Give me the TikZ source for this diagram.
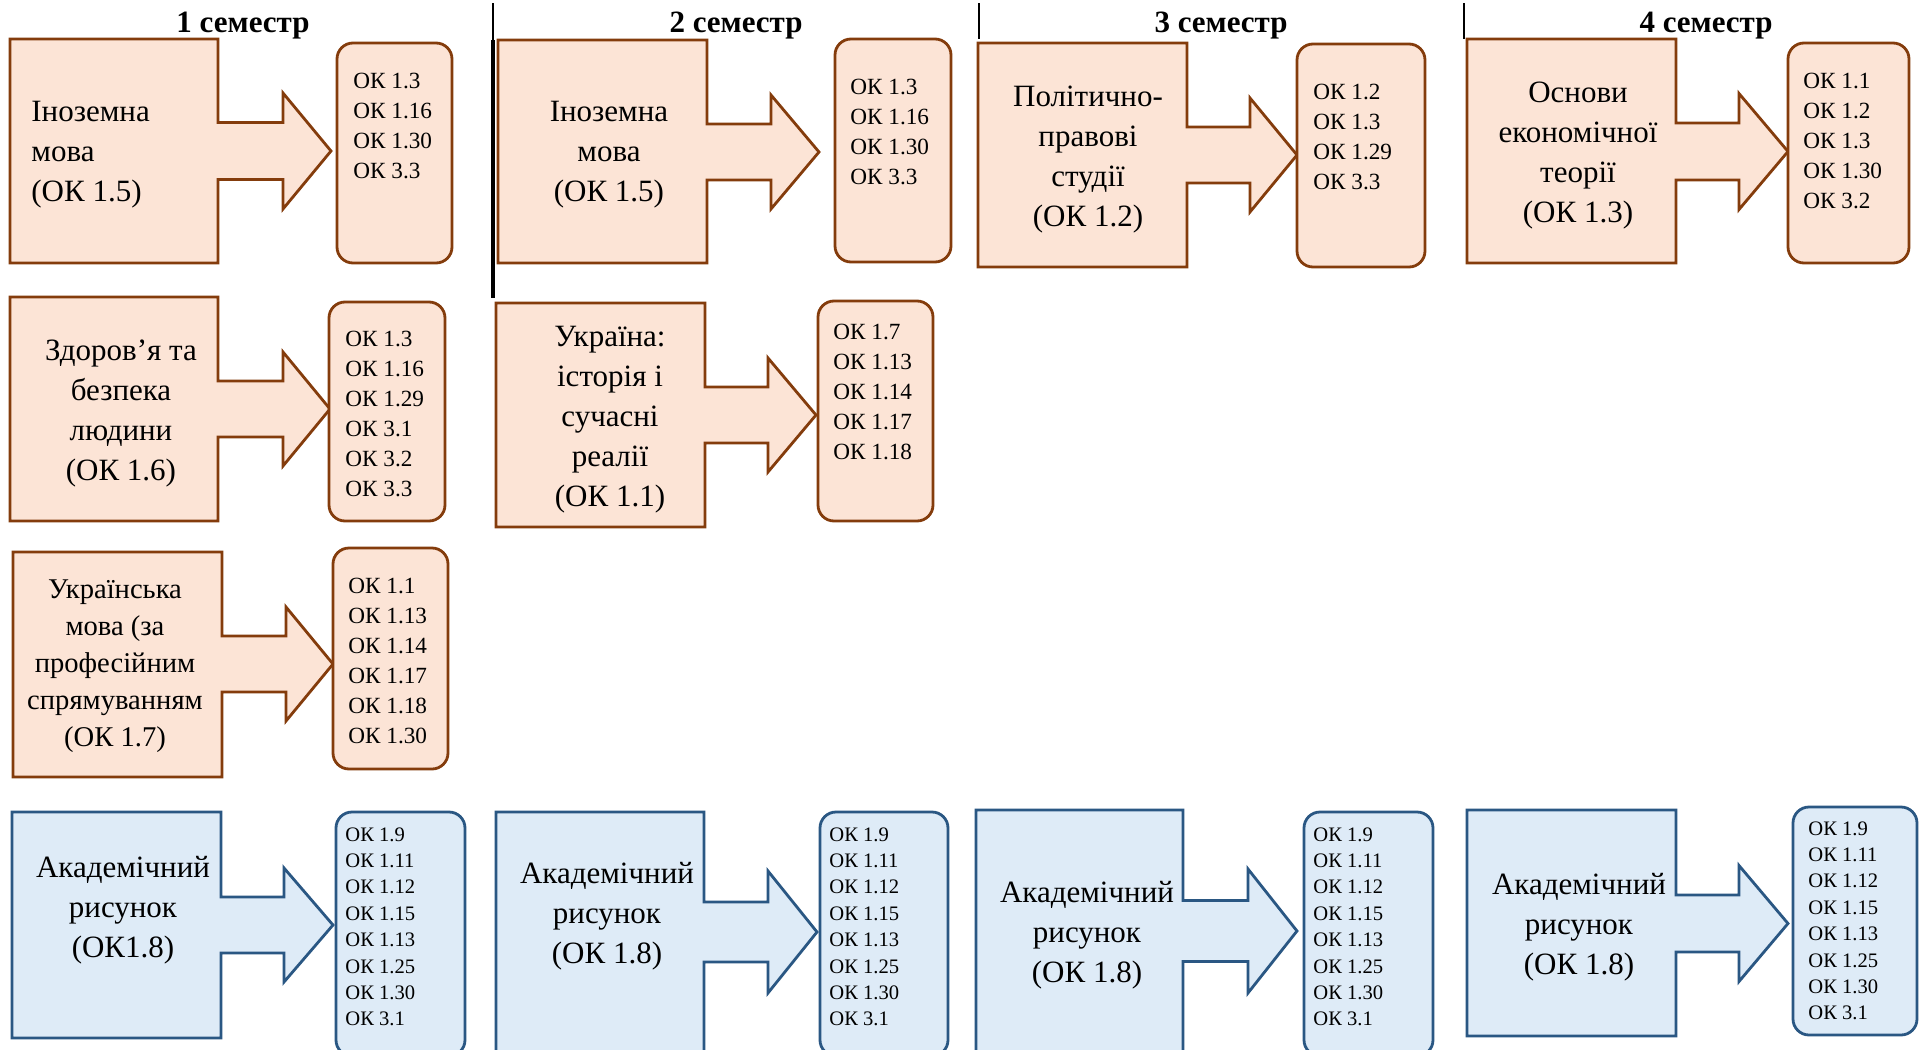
\documentclass[tikz,border=0pt]{standalone}
\usepackage{fontspec}
\setmainfont{Liberation Serif}
\definecolor{peachfill}{HTML}{FCE4D6}
\definecolor{peachline}{HTML}{843C0C}
\definecolor{bluefill}{HTML}{DEEBF7}
\definecolor{blueline}{HTML}{2A5783}
\tikzset{
  peach/.style={draw=peachline, fill=peachfill, line width=1.4pt},
  bluish/.style={draw=blueline, fill=bluefill, line width=1.4pt},
  boxtext/.style={inner sep=0pt, align=center, anchor=north, yshift=-1pt, font=\fontsize{15.5}{20}\selectfont},
  smallboxtext/.style={inner sep=0pt, align=center, anchor=north, yshift=-0.5pt, font=\fontsize{14.3}{18.5}\selectfont},
  listtext/.style={inner sep=0pt, align=left, anchor=north west, font=\fontsize{11.6}{15}\selectfont},
  bluelist/.style={inner sep=0pt, align=left, anchor=north west, font=\fontsize{10.3}{13.2}\selectfont},
  semhead/.style={inner sep=0pt, anchor=base, font=\bfseries\fontsize{15.5}{18}\selectfont},
  sepline/.style={draw=black, line width=1pt},
  septhick/.style={draw=black, line width=2pt},
}
% callout: [style] L T R B headbase tipx tipy shafthalf
\newcommand\callout[9][peach]{%
  \draw[#1] (#2,#3) -- (#4,#3) -- (#4,{#8-#9}) -- (#6,{#8-#9}) -- (#6,{#8-2*#9-1})
    -- (#7,#8) -- (#6,{#8+2*#9+1}) -- (#6,{#8+#9}) -- (#4,{#8+#9}) -- (#4,#5)
    -- (#2,#5) -- cycle;}
% rounded list box: style name L T R B
\newcommand\okbox[6]{%
  \node[#1, rounded corners=8pt, inner sep=0pt,
        minimum width={(#5-#3)*0.5pt}, minimum height={(#6-#4)*0.5pt}]
        (#2) at ({(#3+#5)/2},{(#4+#6)/2}) {};}
\begin{document}
\begin{tikzpicture}[x=0.5pt, y=-0.5pt]
\fill[white] (0,0) rectangle (1919,1050);
\useasboundingbox (0,0) rectangle (1919,1050);

% semester headings
\node[semhead] (h1) at (243,32) {1 семестр};
\node[semhead] (h2) at (736,32) {2 семестр};
\node[semhead] (h3) at (1221,32) {3 семестр};
\node[semhead] (h4) at (1706,32) {4 семестр};

% separator lines
\coordinate (s2a) at (493,3);
\coordinate (s2b) at (493,40);
\coordinate (s2c) at (493,298);
\coordinate (s3a) at (979,3);
\coordinate (s3b) at (979,39);
\coordinate (s4a) at (1464,3);
\coordinate (s4b) at (1464,39);
\draw[sepline] (s2a) -- (s2b);
\draw[septhick] (s2b) -- (s2c);
\draw[sepline] (s3a) -- (s3b);
\draw[sepline] (s4a) -- (s4b);

% callout shapes
\callout{10}{39}{218}{263}{283}{331}{151}{28.5}
\callout{498}{40}{707}{263}{771}{819}{152}{28}
\callout{978}{43}{1187}{267}{1250}{1297}{155}{28}
\callout{1467}{39}{1676}{263}{1739}{1788}{151.5}{28.5}
\callout{10}{297}{218}{521}{283}{330}{409}{28}
\callout{496}{303}{705}{527}{768}{816}{415}{28}
\callout{13}{552}{222}{777}{286}{333}{664}{28}
\callout[bluish]{12}{812}{221}{1038}{284}{333}{925}{28}
\callout[bluish]{496}{812}{704}{1062}{768}{817}{932}{30}
\callout[bluish]{976}{810}{1183}{1062}{1248}{1297}{931}{30.5}
\callout[bluish]{1467}{810}{1676}{1036}{1739}{1788}{923.5}{28.5}

% list boxes
\okbox{peach}{k11}{337}{43}{452}{263}
\okbox{peach}{k21}{835}{39}{951}{262}
\okbox{peach}{k31}{1297}{44}{1425}{267}
\okbox{peach}{k41}{1788}{43}{1909}{263}
\okbox{peach}{k12}{329}{302}{445}{521}
\okbox{peach}{k22}{818}{301}{933}{521}
\okbox{peach}{k13}{333}{548}{448}{769}
\okbox{bluish}{kb1}{336}{812}{465}{1056}
\okbox{bluish}{kb2}{820}{812}{948}{1056}
\okbox{bluish}{kb3}{1304}{812}{1433}{1056}
\okbox{bluish}{kb4}{1793}{807}{1917}{1035}

% box texts
\node[boxtext, align=left, anchor=north west] (c11) at (31,99) {Іноземна\\мова\\(ОК 1.5)};
\node[boxtext] (c21) at (609,99) {Іноземна\\мова\\(ОК 1.5)};
\node[boxtext] (c31) at (1088,84) {Політично-\\правові\\студії\\(ОК 1.2)};
\node[boxtext] (c41) at (1578,80) {Основи\\економічної\\теорії\\(ОК 1.3)};
\node[boxtext] (c12) at (121,337) {Здоров’я та\\безпека\\людини\\(ОК 1.6)};
\node[boxtext] (c22) at (610,324) {Україна:\\історія і\\сучасні\\реалії\\(ОК 1.1)};
\node[smallboxtext] (c13) at (115,578.5) {Українська\\мова (за\\професійним\\спрямуванням\\(ОК 1.7)};
\node[boxtext] (cb1) at (123,854) {Академічний\\рисунок\\(ОК1.8)};
\node[boxtext] (cb2) at (607,860) {Академічний\\рисунок\\(ОК 1.8)};
\node[boxtext] (cb3) at (1087,879) {Академічний\\рисунок\\(ОК 1.8)};
\node[boxtext] (cb4) at (1579,871) {Академічний\\рисунок\\(ОК 1.8)};

% list texts
\node[listtext] (t11) at (353,73) {ОК 1.3\\ОК 1.16\\ОК 1.30\\ОК 3.3};
\node[listtext] (t21) at (850,79) {ОК 1.3\\ОК 1.16\\ОК 1.30\\ОК 3.3};
\node[listtext] (t31) at (1313,84) {ОК 1.2\\ОК 1.3\\ОК 1.29\\ОК 3.3};
\node[listtext] (t41) at (1803,73) {ОК 1.1\\ОК 1.2\\ОК 1.3\\ОК 1.30\\ОК 3.2};
\node[listtext] (t12) at (345,331) {ОК 1.3\\ОК 1.16\\ОК 1.29\\ОК 3.1\\ОК 3.2\\ОК 3.3};
\node[listtext] (t22) at (833,324) {ОК 1.7\\ОК 1.13\\ОК 1.14\\ОК 1.17\\ОК 1.18};
\node[listtext] (t13) at (348,578) {ОК 1.1\\ОК 1.13\\ОК 1.14\\ОК 1.17\\ОК 1.18\\ОК 1.30};
\node[bluelist] (tb1) at (345,827) {ОК 1.9\\ОК 1.11\\ОК 1.12\\ОК 1.15\\ОК 1.13\\ОК 1.25\\ОК 1.30\\ОК 3.1};
\node[bluelist] (tb2) at (829,827) {ОК 1.9\\ОК 1.11\\ОК 1.12\\ОК 1.15\\ОК 1.13\\ОК 1.25\\ОК 1.30\\ОК 3.1};
\node[bluelist] (tb3) at (1313,827) {ОК 1.9\\ОК 1.11\\ОК 1.12\\ОК 1.15\\ОК 1.13\\ОК 1.25\\ОК 1.30\\ОК 3.1};
\node[bluelist] (tb4) at (1808,821) {ОК 1.9\\ОК 1.11\\ОК 1.12\\ОК 1.15\\ОК 1.13\\ОК 1.25\\ОК 1.30\\ОК 3.1};
\end{tikzpicture}
\end{document}
